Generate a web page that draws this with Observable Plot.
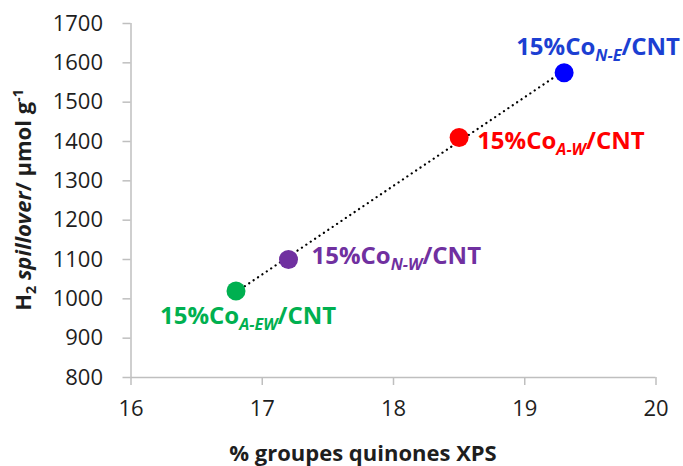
<!DOCTYPE html>
<html><head><meta charset="utf-8">
<script src="https://cdn.jsdelivr.net/npm/d3@7"></script>
<script src="https://cdn.jsdelivr.net/npm/@observablehq/plot@0.6"></script>
<style>
body{margin:0;background:#fff;}
g[aria-label="x-axis tick"], g[aria-label="y-axis tick"]{stroke:#bfbfbf;stroke-width:1.5px;}
</style>
</head><body><div id="chart"></div>
<script>
const prefix = "15%Co";
const suffix = "/CNT";
const samples = ["A-EW", "N-W", "A-W", "N-E"];
const quinones = [16.8, 17.2, 18.5, 19.3];
const spillover = [1020, 1100, 1410, 1575];
const pointColors = ["#00B050", "#7030A0", "#FF0000", "#0000FF"];
const textColors = ["#00B050", "#7030A0", "#FF0000", "#1C3FD2"];
const xTicks = [16, 17, 18, 19, 20];
const yTicks = [800, 900, 1000, 1100, 1200, 1300, 1400, 1500, 1600, 1700];
const xTitle = "% groupes quinones XPS";

const data = samples.map((s, i) => ({
  sample: s, label: prefix + s + suffix,
  x: quinones[i], y: spillover[i], color: pointColors[i], tcolor: textColors[i]
}));

const labelStyle = {x: "x", y: "y", text: "label", fill: "tcolor", textAnchor: "start", lineAnchor: "middle", fontWeight: "bold", fontSize: 24};
const offsets = {"A-EW": [-76, 25], "N-W": [23, -3], "A-W": [18, 4], "N-E": [-48, -25]};

const W = 683, H = 466, mL = 130.5, mR = 27.5, mT = 23, mB = 89;
const plot = Plot.plot({
  width: W, height: H,
  marginLeft: mL, marginRight: mR, marginTop: mT, marginBottom: mB,
  style: {fontFamily: "'Open Sans', sans-serif", fontSize: "22px", color: "#1e1e1e", background: "#fff", overflow: "visible"},
  color: {type: "identity"},
  x: {domain: [16, 20], label: null},
  y: {domain: [800, 1700], label: null},
  marks: [
    Plot.axisX({ticks: xTicks, tickFormat: d => String(d), tickSize: 8, tickPadding: 15, label: null}),
    Plot.axisY({ticks: yTicks, tickFormat: d => String(d), tickSize: 8, tickPadding: 20, label: null}),
    Plot.ruleY([800], {stroke: "#bfbfbf", strokeWidth: 1.5}),
    Plot.ruleX([16], {stroke: "#bfbfbf", strokeWidth: 1.5}),
    Plot.linearRegressionY(data, {x: "x", y: "y", ci: 0, stroke: "#000", strokeWidth: 2.2, strokeDasharray: "0.1,5.2", strokeLinecap: "round"}),
    Plot.dot(data, {x: "x", y: "y", r: 9.5, fill: "color", stroke: null}),
    ...samples.map(s => Plot.text(data.filter(d => d.sample === s), {...labelStyle, dx: offsets[s][0], dy: offsets[s][1]}))
  ]
});

const svg = d3.select(plot);
svg.selectAll('g[aria-label="text"] text').each(function () {
  const t = this.textContent;
  const s = samples.find(s => t === prefix + s + suffix);
  if (!s) return;
  const el = d3.select(this);
  el.text(null);
  el.append("tspan").text(prefix);
  el.append("tspan").attr("font-size", "0.67em").attr("font-style", "italic").attr("dy", 6).text(s);
  el.append("tspan").attr("dy", -6).text(suffix);
});

const yl = svg.append("text")
  .attr("transform", `translate(31,${(mT + H - mB) / 2}) rotate(-90)`)
  .attr("text-anchor", "middle").attr("font-weight", "bold").attr("font-size", 22).attr("fill", "#1e1e1e");
yl.append("tspan").text("H");
yl.append("tspan").attr("font-size", "0.65em").attr("dy", 5).text("2");
yl.append("tspan").attr("dy", -5).text(" ");
yl.append("tspan").attr("font-style", "italic").text("spillover");
yl.append("tspan").text("/ µmol g");
yl.append("tspan").attr("font-size", "0.65em").attr("dy", -8).text("-1");

svg.append("text").attr("x", 363).attr("y", 461)
  .attr("text-anchor", "middle").attr("font-weight", "bold").attr("font-size", 22).attr("fill", "#1e1e1e")
  .text(xTitle);

document.getElementById("chart").appendChild(plot);
</script>
</body></html>
